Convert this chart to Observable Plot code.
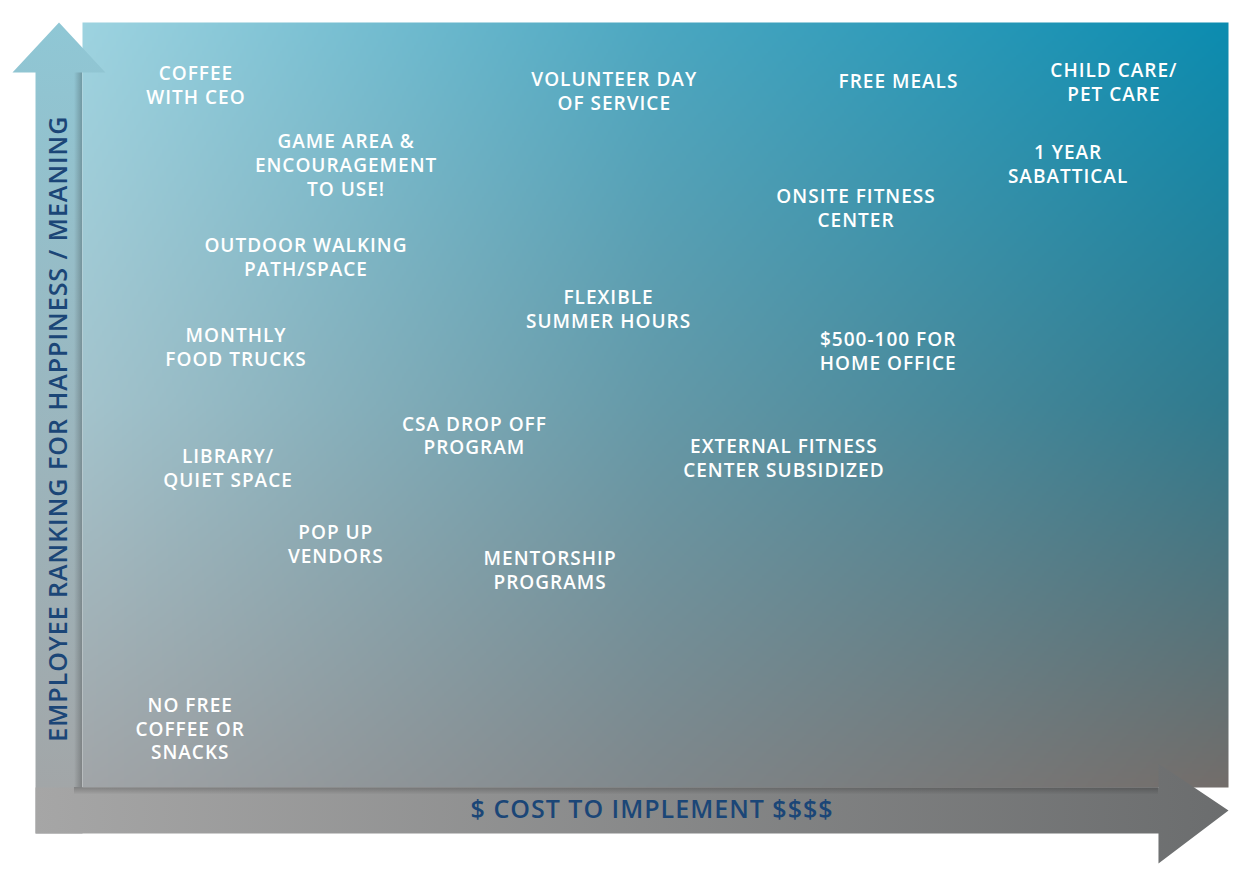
<!DOCTYPE html>
<html>
<head>
<meta charset="utf-8">
<script src="https://cdn.jsdelivr.net/npm/d3@7"></script>
<script src="https://cdn.jsdelivr.net/npm/@observablehq/plot@0.6"></script>
<style>
  html, body { margin: 0; padding: 0; background: #ffffff; }
  #chart svg { display: block; }
  #chart svg text { letter-spacing: 1px; }
</style>
</head>
<body>
<div id="chart"></div>
<script>
// ---- data (cost to implement 0–100, happiness/meaning 0–100) ----
const perks = [
  "COFFEE\nWITH CEO",
  "VOLUNTEER DAY\nOF SERVICE",
  "FREE MEALS",
  "CHILD CARE/\nPET CARE",
  "GAME AREA &\nENCOURAGEMENT\nTO USE!",
  "1 YEAR\nSABATTICAL",
  "ONSITE FITNESS\nCENTER",
  "OUTDOOR WALKING\nPATH/SPACE",
  "FLEXIBLE\nSUMMER HOURS",
  "MONTHLY\nFOOD TRUCKS",
  "$500-100 FOR\nHOME OFFICE",
  "CSA DROP OFF\nPROGRAM",
  "EXTERNAL FITNESS\nCENTER SUBSIDIZED",
  "LIBRARY/\nQUIET SPACE",
  "POP UP\nVENDORS",
  "MENTORSHIP\nPROGRAMS",
  "NO FREE\nCOFFEE OR\nSNACKS"
];
const cost =      [9.9, 46.4, 71.2, 90.0, 23.0, 86.0, 67.5, 19.5, 45.9, 13.4, 70.3, 34.2, 61.2, 12.7, 22.1, 40.8, 9.4];
const happiness = [91.9, 91.1, 92.4, 92.3, 81.5, 81.6, 75.8, 69.4, 62.6, 57.7, 57.2, 46.1, 43.2, 41.8, 31.9, 28.5, 7.8];

const xTitle = "$ COST TO IMPLEMENT $$$$";
const yTitle = "EMPLOYEE RANKING FOR HAPPINESS / MEANING";

const points = perks.map((label, i) => ({label, cost: cost[i], happiness: happiness[i]}));

// ---- background colour grid (rows top→bottom, cols left→right) ----
const grid = [
  ["#9dd3e0", "#4ba7c1", "#0b8cb0"],
  ["#a3c3cc", "#6499a8", "#2f7a8e"],
  ["#a1a5a8", "#7f878b", "#736d6a"]
].map(row => row.map(c => d3.rgb(c)));

function bgColor(x, y) {
  const u = Math.max(0, Math.min(1, x / 100)) * 2;
  const v = Math.max(0, Math.min(1, 1 - y / 100)) * 2;
  const i = Math.min(1, Math.floor(v)), j = Math.min(1, Math.floor(u));
  const fv = v - i, fu = u - j;
  const a = grid[i][j], b = grid[i][j + 1], c = grid[i + 1][j], d = grid[i + 1][j + 1];
  const mix = k => (a[k] * (1 - fu) + b[k] * fu) * (1 - fv) + (c[k] * (1 - fu) + d[k] * fu) * fv;
  return `rgb(${Math.round(mix("r"))},${Math.round(mix("g"))},${Math.round(mix("b"))})`;
}

// ---- frame geometry in data units ----
const bandL = -4.1, bandB = -6.0;
const vArrow = [
  {x: bandL, y: bandB}, {x: bandL, y: 93.46}, {x: -6.11, y: 93.46}, {x: -2.05, y: 100},
  {x: 2.0, y: 93.46}, {x: 0, y: 93.46}, {x: 0, y: bandB}, {x: bandL, y: bandB}
];
const hArrow = [
  {x: bandL, y: 0}, {x: 93.89, y: 0}, {x: 93.89, y: 3.14}, {x: 100, y: -3.0},
  {x: 93.89, y: -9.93}, {x: 93.89, y: bandB}, {x: bandL, y: bandB}, {x: bandL, y: 0}
];

const NS = "http://www.w3.org/2000/svg";
function defs() {
  const g = document.createElementNS(NS, "defs");
  g.innerHTML = `
    <linearGradient id="vgrad" x1="0" y1="0" x2="0" y2="1">
      <stop offset="0" stop-color="#8fc7d5"/>
      <stop offset="0.5" stop-color="#9bb6be"/>
      <stop offset="1" stop-color="#a3a4a5"/>
    </linearGradient>
    <linearGradient id="hgrad" x1="0" y1="0" x2="1" y2="0">
      <stop offset="0" stop-color="#a6a6a6"/>
      <stop offset="1" stop-color="#6b6d6e"/>
    </linearGradient>
    <linearGradient id="shadowL" x1="0" y1="0" x2="1" y2="0">
      <stop offset="0" stop-color="#000" stop-opacity="0"/>
      <stop offset="1" stop-color="#000" stop-opacity="0.22"/>
    </linearGradient>
    <linearGradient id="shadowB" x1="0" y1="1" x2="0" y2="0">
      <stop offset="0" stop-color="#000" stop-opacity="0"/>
      <stop offset="1" stop-color="#000" stop-opacity="0.22"/>
    </linearGradient>`;
  return g;
}

const chart = Plot.plot({
  width: 1238,
  height: 877,
  marginTop: 22,
  marginRight: 10,
  marginBottom: 90,
  marginLeft: 82,
  x: {domain: [0, 100], axis: null},
  y: {domain: [0, 100], axis: null},
  color: {type: "identity"},
  style: {background: "#ffffff", overflow: "visible"},
  marks: [
    defs,
    Plot.raster({x1: 0, x2: 100, y1: 0, y2: 100, pixelSize: 2, fill: bgColor, imageRendering: "auto"}),
    Plot.line(vArrow, {x: "x", y: "y", fill: "url(#vgrad)", stroke: "none", curve: "linear-closed"}),
    Plot.line(hArrow, {x: "x", y: "y", fill: "url(#hgrad)", stroke: "none", curve: "linear-closed"}),
    Plot.rect([{x1: -0.7, x2: 0, y1: 0, y2: 93.4}], {x1: "x1", x2: "x2", y1: "y1", y2: "y2", fill: "url(#shadowL)"}),
    Plot.rect([{x1: -0.7, x2: 93.89, y1: -1.0, y2: 0}], {x1: "x1", x2: "x2", y1: "y1", y2: "y2", fill: "url(#shadowB)"}),
    Plot.text(points, {
      x: "cost", y: "happiness", text: "label",
      fill: "#ffffff", fontSize: 19, fontWeight: 600,
      fontFamily: "'Open Sans', sans-serif",
      lineHeight: 1.26, textAnchor: "middle", lineAnchor: "middle"
    }),
    Plot.text([xTitle], {
      x: 49.7, y: -3.0, text: d => d,
      fill: "#1b4677", fontSize: 25, fontWeight: 600,
      fontFamily: "'Open Sans', sans-serif", lineAnchor: "middle"
    }),
    Plot.text([yTitle], {
      x: -2.05, y: 46.9, text: d => d, rotate: -90,
      fill: "#1b4677", fontSize: 25, fontWeight: 600,
      fontFamily: "'Open Sans', sans-serif", lineAnchor: "middle"
    })
  ]
});
document.getElementById("chart").appendChild(chart);
</script>
</body>
</html>
